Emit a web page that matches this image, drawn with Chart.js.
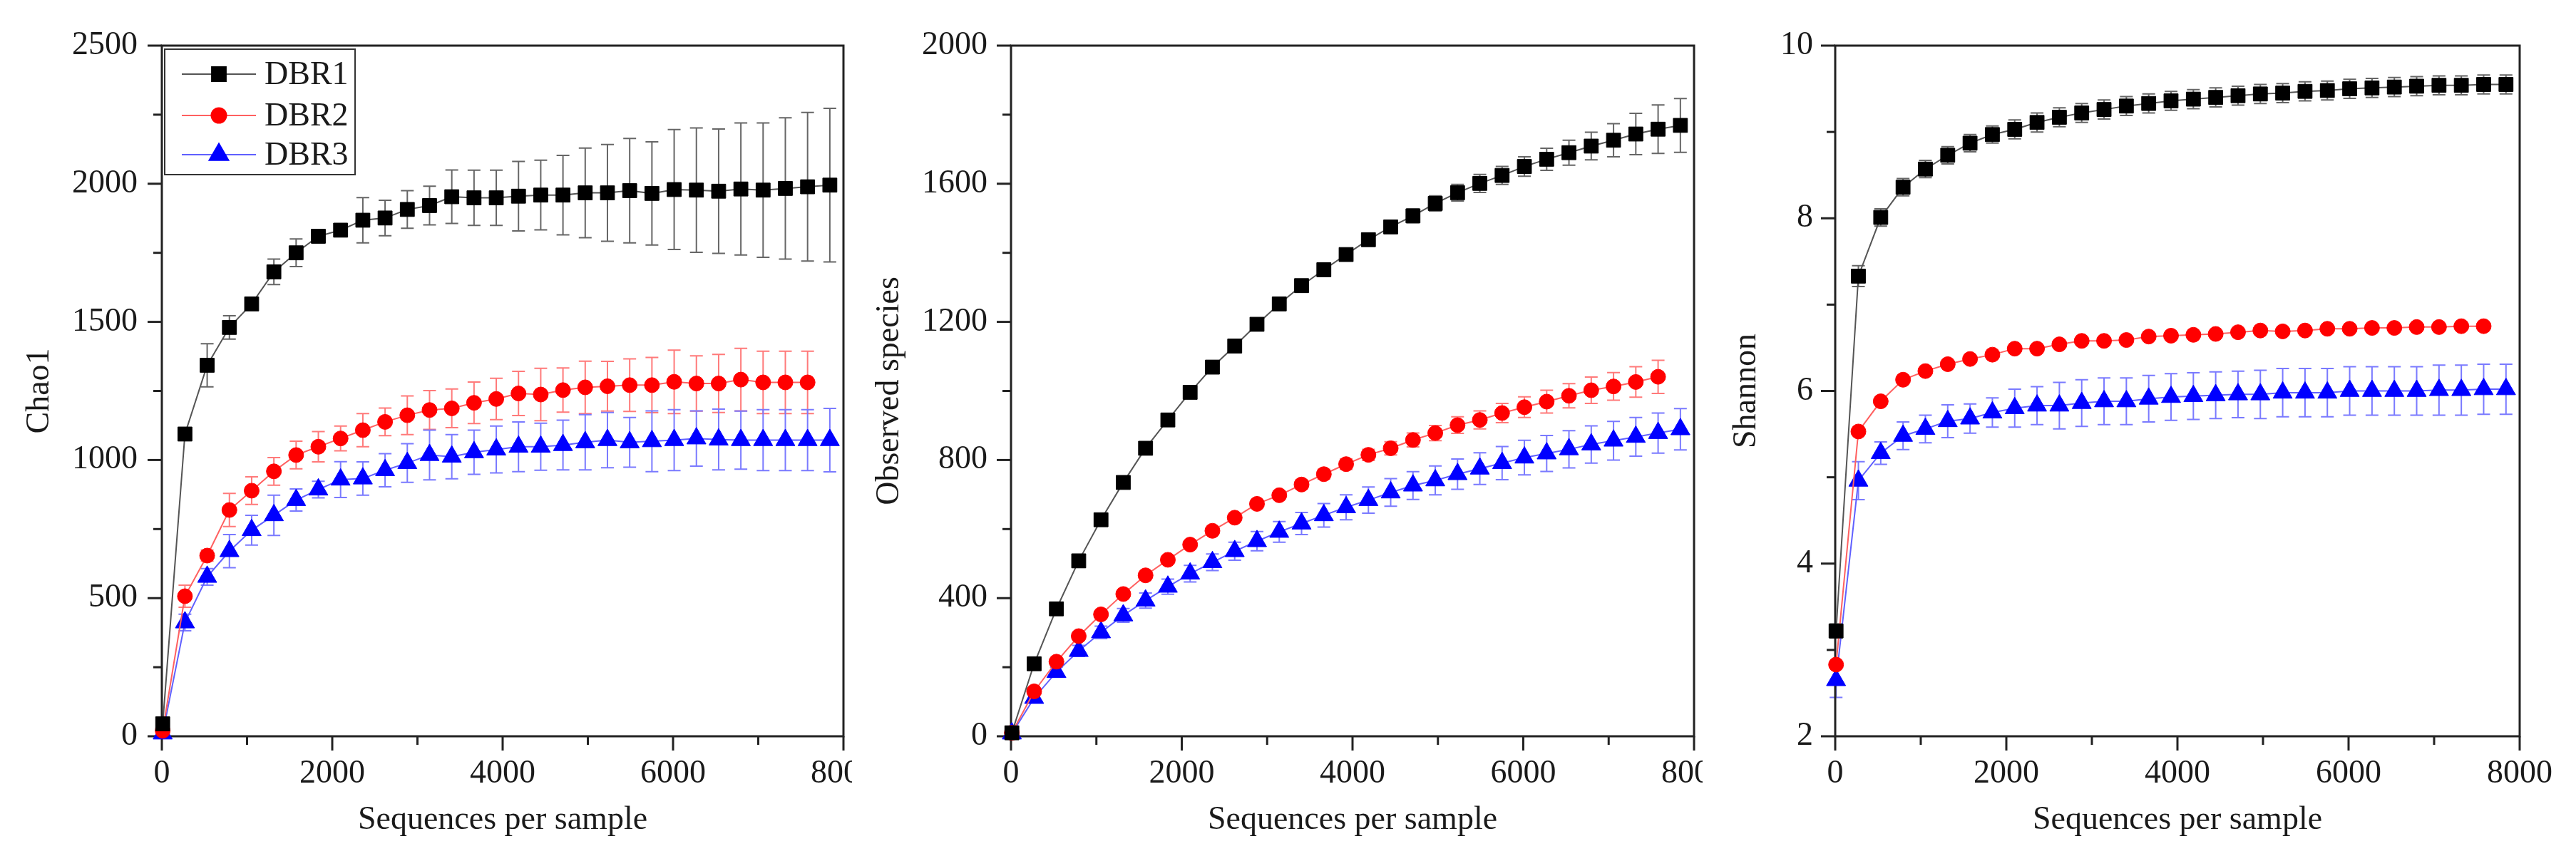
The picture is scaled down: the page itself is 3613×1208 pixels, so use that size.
<!DOCTYPE html>
<html>
<head>
<meta charset="utf-8">
<script src="https://cdn.jsdelivr.net/npm/chart.js@4.4.0/dist/chart.umd.min.js"></script>
<style>
  html, body { margin: 0; padding: 0; background: #fff; }
  body { width: 3613px; height: 1208px; position: relative; overflow: hidden; }
  .panel { position: absolute; top: 0; height: 1208px; overflow: hidden; background: #fff; }
  canvas { display: block; background: #fff; }
</style>
</head>
<body>
<div class="panel" style="left:0;width:1195px"><canvas id="chao1" width="1254" height="1208"></canvas></div>
<div class="panel" style="left:1195px;width:1193px"><canvas id="observed" width="1252" height="1208"></canvas></div>
<div class="panel" style="left:2388px;width:1225px"><canvas id="shannon" width="1217" height="1208"></canvas></div>
<script>
// rarefaction depths (sequences per sample)
const depths = [10, 271, 532, 793, 1054, 1315, 1576, 1837, 2098, 2359, 2620, 2881, 3142, 3403, 3664, 3925,
  4186, 4447, 4708, 4969, 5230, 5491, 5752, 6013, 6274, 6535, 6796, 7057, 7318, 7579, 7840];

const seriesNames = ['DBR1', 'DBR2', 'DBR3'];

// Chao1
const chao1DBR1 = [45, 1094, 1343, 1480, 1565, 1681, 1750, 1810, 1832, 1868, 1876, 1907, 1921, 1953, 1949, 1949,
  1955, 1959, 1959, 1967, 1967, 1975, 1965, 1979, 1977, 1973, 1981, 1977, 1983, 1989, 1995];
const chao1DBR1Err = [5, 10, 78, 42, 15, 46, 50, 24, 15, 82, 64, 68, 70, 97, 100, 100,
  126, 126, 144, 162, 175, 189, 187, 217, 225, 225, 239, 243, 256, 269, 278];
const chao1DBR2 = [20, 507, 654, 819, 889, 959, 1018, 1048, 1078, 1108, 1138, 1162, 1181, 1187, 1207, 1221,
  1241, 1237, 1253, 1263, 1267, 1271, 1271, 1283, 1277, 1277, 1291, 1281, 1281, 1281];
const chao1DBR2Err = [5, 40, 20, 60, 50, 50, 50, 55, 45, 60, 50, 70, 70, 70, 75, 75,
  80, 95, 80, 95, 90, 95, 100, 115, 100, 105, 113, 113, 113, 113];
const chao1DBR3 = [10, 412, 577, 670, 746, 800, 855, 893, 929, 933, 963, 989, 1018, 1012, 1028, 1038,
  1048, 1048, 1054, 1064, 1072, 1064, 1068, 1072, 1078, 1074, 1072, 1072, 1072, 1072, 1072];
const chao1DBR3Err = [5, 30, 30, 60, 54, 73, 40, 30, 65, 60, 60, 70, 90, 80, 80, 85,
  90, 85, 90, 100, 100, 90, 110, 110, 100, 110, 105, 110, 110, 110, 115];

// Observed species
const obsDBR1 = [10, 210, 369, 508, 627, 735, 834, 916, 996, 1069, 1130, 1193, 1252, 1305, 1351, 1395,
  1438, 1475, 1507, 1543, 1574, 1601, 1624, 1650, 1671, 1690, 1709, 1726, 1744, 1758, 1769];
const obsDBR1Err = [2, 5, 5, 6, 8, 8, 10, 10, 12, 12, 14, 16, 16, 16, 16, 16,
  16, 18, 20, 22, 24, 26, 26, 28, 32, 36, 40, 48, 60, 70, 78];
const obsDBR2 = [10, 130, 216, 290, 353, 412, 466, 511, 555, 595, 633, 673, 698, 729, 759, 788,
  815, 834, 858, 878, 901, 916, 936, 953, 969, 986, 1002, 1013, 1026, 1041];
const obsDBR2Err = [2, 4, 5, 6, 6, 7, 8, 8, 9, 10, 10, 11, 12, 13, 14, 15,
  16, 19, 20, 22, 24, 26, 28, 30, 33, 35, 38, 40, 44, 48];
const obsDBR3 = [8, 111, 186, 247, 301, 350, 393, 433, 471, 504, 536, 565, 592, 616, 640, 663,
  684, 706, 726, 741, 759, 775, 791, 807, 819, 831, 845, 856, 867, 878, 889];
const obsDBR3Err = [2, 12, 14, 16, 18, 20, 22, 22, 24, 24, 26, 28, 30, 32, 34, 36,
  38, 40, 40, 42, 44, 46, 48, 50, 52, 54, 54, 56, 56, 58, 60];

// Shannon
const shanDBR1 = [3.22, 7.33, 8.01, 8.36, 8.57, 8.73, 8.87, 8.97, 9.03, 9.11, 9.17, 9.22, 9.26, 9.30, 9.33, 9.36,
  9.38, 9.40, 9.42, 9.44, 9.45, 9.47, 9.48, 9.50, 9.51, 9.52, 9.53, 9.54, 9.54, 9.55, 9.55];
const shanDBR1Err = [0.08, 0.12, 0.10, 0.10, 0.10, 0.10, 0.10, 0.10, 0.11, 0.11, 0.11, 0.11, 0.11, 0.11, 0.11, 0.11,
  0.11, 0.11, 0.11, 0.11, 0.11, 0.11, 0.11, 0.11, 0.11, 0.11, 0.11, 0.11, 0.11, 0.11, 0.11];
const shanDBR2 = [2.83, 5.53, 5.88, 6.13, 6.23, 6.31, 6.37, 6.42, 6.49, 6.49, 6.54, 6.58, 6.58, 6.59, 6.63, 6.64,
  6.65, 6.66, 6.68, 6.70, 6.69, 6.70, 6.72, 6.72, 6.73, 6.73, 6.74, 6.74, 6.75, 6.75];
const shanDBR2Err = [0.03, 0.03, 0.03, 0.03, 0.03, 0.03, 0.03, 0.03, 0.03, 0.03, 0.03, 0.03, 0.03, 0.03, 0.03, 0.03,
  0.03, 0.03, 0.03, 0.03, 0.03, 0.03, 0.03, 0.03, 0.03, 0.03, 0.03, 0.03, 0.03, 0.03];
const shanDBR3 = [2.65, 4.96, 5.28, 5.48, 5.56, 5.65, 5.68, 5.75, 5.80, 5.83, 5.83, 5.86, 5.88, 5.88, 5.91, 5.93,
  5.94, 5.95, 5.96, 5.96, 5.98, 5.98, 5.98, 6.00, 6.00, 6.00, 6.00, 6.01, 6.01, 6.02, 6.02];
const shanDBR3Err = [0.20, 0.22, 0.13, 0.16, 0.16, 0.19, 0.17, 0.17, 0.22, 0.22, 0.27, 0.27, 0.27, 0.27, 0.27, 0.27,
  0.27, 0.27, 0.27, 0.28, 0.28, 0.28, 0.28, 0.28, 0.28, 0.28, 0.28, 0.29, 0.29, 0.29, 0.29];

const markColors = ['#000000', '#ff0000', '#0000ff'];
const lineColors = ['#555555', '#ff6060', '#6060ff'];
const errColors = ['#666666', '#ff7a7a', '#7a7aff'];
const pointStyles = ['rect', 'circle', 'triangle'];
const pointSizes = [14, 10.5, 15.5];
const FONT = "'Liberation Serif', 'Times New Roman', serif";
const INK = '#1a1a1a';

function toPoints(vals) {
  return vals.map((v, i) => ({ x: depths[i], y: v }));
}

// axis frame, outward ticks (major + minor) and error bars
const frameAndErrors = {
  id: 'frameAndErrors',
  beforeDatasetsDraw(chart, args, opts) {
    const { ctx, chartArea: a, scales: { x, y } } = chart;
    ctx.save();
    // error bars
    ctx.lineWidth = 2;
    chart.data.datasets.forEach((ds, i) => {
      const errs = opts.errors[i];
      ctx.strokeStyle = errColors[i];
      ds.data.forEach((p, j) => {
        const px = x.getPixelForValue(p.x);
        const t = y.getPixelForValue(p.y + errs[j]);
        const b = y.getPixelForValue(p.y - errs[j]);
        ctx.beginPath();
        ctx.moveTo(px, t); ctx.lineTo(px, b);
        ctx.moveTo(px - 9, t); ctx.lineTo(px + 9, t);
        ctx.moveTo(px - 9, b); ctx.lineTo(px + 9, b);
        ctx.stroke();
      });
    });
    // frame
    ctx.strokeStyle = '#222';
    ctx.lineWidth = 3;
    ctx.strokeRect(a.left, a.top, a.right - a.left, a.bottom - a.top);
    // ticks
    for (let v = x.min; v <= x.max + 1e-9; v += opts.xMinor) {
      const px = x.getPixelForValue(v);
      const major = Math.abs(v / opts.xMajor - Math.round(v / opts.xMajor)) < 1e-6;
      ctx.beginPath();
      ctx.moveTo(px, a.bottom);
      ctx.lineTo(px, a.bottom + (major ? 20 : 12));
      ctx.stroke();
    }
    for (let v = y.min; v <= y.max + 1e-9; v += opts.yMinor) {
      const py = y.getPixelForValue(v);
      const major = Math.abs(v / opts.yMajor - Math.round(v / opts.yMajor)) < 1e-6;
      ctx.beginPath();
      ctx.moveTo(a.left, py);
      ctx.lineTo(a.left - (major ? 20 : 12), py);
      ctx.stroke();
    }
    ctx.restore();
  }
};

// boxed legend with line + marker, as in the Origin plot
const boxLegend = {
  id: 'boxLegend',
  afterDatasetsDraw(chart, args, opts) {
    if (!opts.show) return;
    const { ctx, chartArea: a } = chart;
    const bx = a.left + 4, by = a.top + 5, bw = 267, bh = 176;
    ctx.save();
    ctx.fillStyle = '#fff';
    ctx.fillRect(bx, by, bw, bh);
    ctx.strokeStyle = '#333';
    ctx.lineWidth = 2;
    ctx.strokeRect(bx, by, bw, bh);
    const rows = [35, 93, 148];
    seriesNames.forEach((name, i) => {
      const yy = by + rows[i];
      ctx.strokeStyle = lineColors[i];
      ctx.lineWidth = 2;
      ctx.beginPath();
      ctx.moveTo(bx + 24, yy); ctx.lineTo(bx + 128, yy);
      ctx.stroke();
      ctx.fillStyle = markColors[i];
      ctx.strokeStyle = markColors[i];
      Chart.helpers.drawPoint(ctx, { pointStyle: pointStyles[i], radius: pointSizes[i], rotation: 0, borderWidth: 1 }, bx + 76, yy);
      ctx.fillStyle = INK;
      ctx.font = '46px ' + FONT;
      ctx.textAlign = 'left';
      ctx.textBaseline = 'middle';
      ctx.fillText(name, bx + 140, yy + 2);
    });
    ctx.restore();
  }
};

function makePanel(id, cfg) {
  const datasets = cfg.series.map((vals, i) => ({
    label: seriesNames[i],
    data: toPoints(vals),
    borderColor: lineColors[i],
    borderWidth: 2,
    pointStyle: pointStyles[i],
    pointRadius: pointSizes[i],
    pointBackgroundColor: markColors[i],
    pointBorderColor: markColors[i],
    pointBorderWidth: 1,
    tension: 0,
    clip: false
  }));
  return new Chart(document.getElementById(id), {
    type: 'line',
    data: { datasets },
    plugins: [frameAndErrors, boxLegend],
    options: {
      responsive: false,
      devicePixelRatio: 1,
      animation: false,
      layout: { padding: { left: 0, top: 64, right: 60, bottom: 0 } },
      plugins: {
        legend: { display: false },
        tooltip: { enabled: false },
        frameAndErrors: { errors: cfg.errors, xMajor: 2000, xMinor: 1000, yMajor: cfg.yStep, yMinor: cfg.yStep / 2 },
        boxLegend: { show: !!cfg.legend }
      },
      scales: {
        x: {
          type: 'linear',
          min: 0, max: 8000,
          grid: { display: false, drawTicks: false },
          border: { display: false },
          ticks: { stepSize: 2000, padding: 25, color: INK, font: { family: FONT, size: 46 }, callback: v => String(v) },
          title: { display: true, text: 'Sequences per sample', color: INK, font: { family: FONT, size: 46 }, padding: { top: 0, bottom: 29 } },
          afterFit: s => { s.height = 175; }
        },
        y: {
          type: 'linear',
          min: cfg.yMin, max: cfg.yMax,
          grid: { display: false, drawTicks: false },
          border: { display: false },
          ticks: { stepSize: cfg.yStep, padding: cfg.labelGap, color: INK, font: { family: FONT, size: 46 }, callback: v => String(v) },
          title: { display: true, text: cfg.yTitle, color: INK, font: { family: FONT, size: 46 }, padding: { top: cfg.titlePad, bottom: 0 } },
          afterFit: s => { s.width = cfg.axisWidth; }
        }
      }
    }
  });
}

makePanel('chao1', {
  series: [chao1DBR1, chao1DBR2, chao1DBR3],
  errors: [chao1DBR1Err, chao1DBR2Err, chao1DBR3Err],
  yMin: 0, yMax: 2500, yStep: 500,
  yTitle: 'Chao1', axisWidth: 227, titlePad: 28, labelGap: 34, legend: true
});
makePanel('observed', {
  series: [obsDBR1, obsDBR2, obsDBR3],
  errors: [obsDBR1Err, obsDBR2Err, obsDBR3Err],
  yMin: 0, yMax: 2000, yStep: 400,
  yTitle: 'Observed species', axisWidth: 223, titlePad: 25, labelGap: 33
});
makePanel('shannon', {
  series: [shanDBR1, shanDBR2, shanDBR3],
  errors: [shanDBR1Err, shanDBR2Err, shanDBR3Err],
  yMin: 2, yMax: 10, yStep: 2,
  yTitle: 'Shannon', axisWidth: 186, titlePad: 34, labelGap: 31
});
</script>
</body>
</html>
